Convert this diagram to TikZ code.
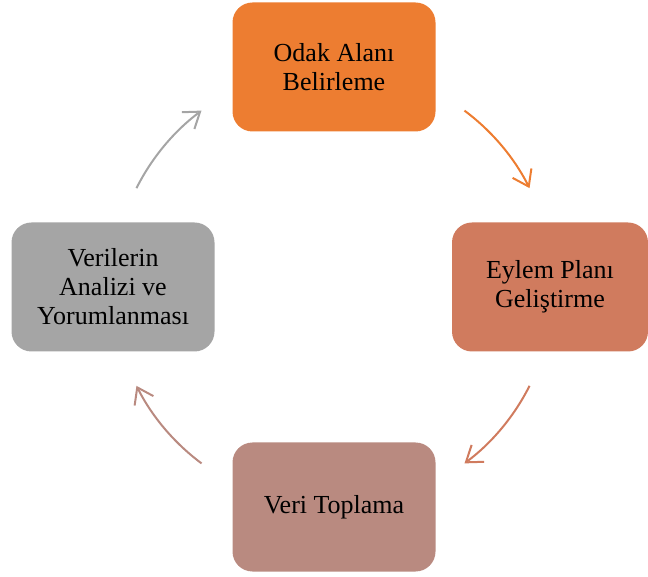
\documentclass[tikz,border=0pt]{standalone}
\usepackage{fontspec}
\setmainfont{Liberation Serif}
\usetikzlibrary{arrows.meta}
\definecolor{cTop}{HTML}{ED7D31}
\definecolor{cRight}{HTML}{D07B5E}
\definecolor{cBottom}{HTML}{B98A80}
\definecolor{cLeft}{HTML}{A5A5A5}
\begin{document}
\begin{tikzpicture}[x=1pt,y=1pt,
  stepbox/.style={rectangle, rounded corners=20pt, minimum width=203pt, minimum height=129pt,
    inner sep=0pt, align=center, text=black,
    font=\fontsize{26}{29}\selectfont},
  cyc/.style={line width=2pt, -{Straight Barb[length=15pt,width=21pt,line width=2pt]}}]
\useasboundingbox (0,0) rectangle (648,576);
\node[stepbox, fill=cTop] (top) at (334,509) {Odak Alanı\\Belirleme};
\node[stepbox, fill=cRight, minimum width=196pt] (right) at (550,289) {Eylem Planı\\Geliştirme};
\node[stepbox, fill=cBottom] (bottom) at (334,69) {Veri Toplama};
\node[stepbox, fill=cLeft] (left) at (113,289) {Verilerin\\Analizi ve\\Yorumlanması};
\coordinate (c) at (333,289);
\coordinate (a1) at ([shift={(53.3:220)}]c);
\coordinate (a2) at ([shift={(-26.7:220)}]c);
\coordinate (a3) at ([shift={(-126.7:220)}]c);
\coordinate (a4) at ([shift={(153.3:220)}]c);
\draw[cyc, cTop] (a1) arc[start angle=53.3, end angle=26.7, radius=220];
\draw[cyc, cRight] (a2) arc[start angle=-26.7, end angle=-53.3, radius=220];
\draw[cyc, cBottom] (a3) arc[start angle=-126.7, end angle=-153.3, radius=220];
\draw[cyc, cLeft] (a4) arc[start angle=153.3, end angle=126.7, radius=220];
\end{tikzpicture}
\end{document}
